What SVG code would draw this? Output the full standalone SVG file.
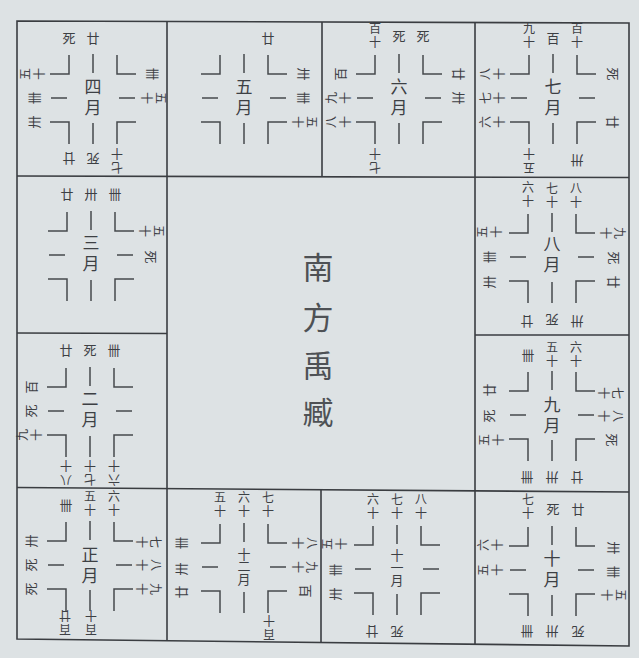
<svg xmlns="http://www.w3.org/2000/svg" width="639" height="658" viewBox="0 0 639 658">
<style>
.g{stroke:#3a3d41;stroke-width:1.6;fill:none}
.x{stroke:#46494c;stroke-width:1.5;fill:none}
text{font-family:'Noto Sans CJK SC','Noto Sans CJK TC',sans-serif;fill:#3d4044;text-anchor:middle;dominant-baseline:central}
.s{font-size:13px}
.v{font-size:12px;writing-mode:vertical-rl;letter-spacing:1.5px}
.mv{font-size:17px;writing-mode:vertical-rl;letter-spacing:4px}
.m3v{font-size:13px;writing-mode:vertical-rl;letter-spacing:-0.5px}
.t{font-size:31px;fill:#4e5155}
</style>
<defs>
<g id="cross" class="x">
<path d="M-43,-24H-24V-43M43,-24H24V-43M-43,24H-24V46M43,24H24V46M-42,0H-26M26,0H42M0,-44V-25M0,25V46"/>
</g>
</defs>
<rect width="639" height="658" fill="#dde2e4"/>
<g id="grid" class="g">
<path d="M17,21L629,23L629,646L17,639Z"/>
<path d="M17,176L629,177.5M17,487.5L629,492M17,333L167,333.5M475,335L629,335"/>
<path d="M167,21.5L167,640.5M475,22.5L475,644M322,22L322,176.8M321,489.7L321,642.5"/>
</g>
<g id="center">
<text class="t" x="318" y="265">南</text>
<text class="t" x="318" y="315">方</text>
<text class="t" x="318" y="363">禹</text>
<text class="t" x="318" y="410">臧</text>
</g>
<g id="m4" transform="translate(93,98)">
<use href="#cross"/>
<text class="mv" y="1">四月</text>
<text class="s" transform="translate(-24,-61)">死</text>
<text class="s" transform="translate(0,-61)">廿</text>
<text class="v" transform="translate(-60,-24) rotate(-90)">五十</text>
<text class="s" transform="translate(-60,0) rotate(-90)">卌</text>
<text class="s" transform="translate(-60,24) rotate(-90)">卅</text>
<text class="s" transform="translate(60,-24) rotate(90)">卌</text>
<text class="v" transform="translate(60,0) rotate(90)">五十</text>
<text class="s" transform="translate(-24,61) rotate(180)">廿</text>
<text class="s" transform="translate(0,61) rotate(180)">死</text>
<text class="v" transform="translate(24,62) rotate(180)">七十</text>
</g>
<g id="m5" transform="translate(244,98)">
<use href="#cross"/>
<text class="mv" y="1">五月</text>
<text class="s" transform="translate(24,-61)">廿</text>
<text class="s" transform="translate(60,-24) rotate(90)">卅</text>
<text class="s" transform="translate(60,0) rotate(90)">卌</text>
<text class="v" transform="translate(60,24) rotate(90)">五十</text>
</g>
<g id="m6" transform="translate(399,98)">
<use href="#cross"/>
<text class="mv" y="1">六月</text>
<text class="v" transform="translate(-24,-62)">百十</text>
<text class="s" transform="translate(0,-63)">死</text>
<text class="s" transform="translate(24,-63)">死</text>
<text class="s" transform="translate(-60,-24) rotate(-90)">百</text>
<text class="v" transform="translate(-60,0) rotate(-90)">九十</text>
<text class="v" transform="translate(-60,24) rotate(-90)">八十</text>
<text class="s" transform="translate(60,-24) rotate(90)">廿</text>
<text class="s" transform="translate(60,0) rotate(90)">卅</text>
<text class="v" transform="translate(-24,62) rotate(180)">七十</text>
</g>
<g id="m7" transform="translate(553,98)">
<use href="#cross"/>
<text class="mv" y="1">七月</text>
<text class="v" transform="translate(-24,-62)">九十</text>
<text class="s" transform="translate(0,-61)">百</text>
<text class="v" transform="translate(24,-62)">百十</text>
<text class="v" transform="translate(-60,-24) rotate(-90)">八十</text>
<text class="v" transform="translate(-60,0) rotate(-90)">七十</text>
<text class="v" transform="translate(-60,24) rotate(-90)">六十</text>
<text class="s" transform="translate(60,-24) rotate(90)">死</text>
<text class="s" transform="translate(60,24) rotate(90)">廿</text>
<text class="v" transform="translate(-24,62) rotate(180)">五十</text>
<text class="s" transform="translate(24,63) rotate(180)">卅</text>
</g>
<g id="m3" transform="translate(91,255)">
<use href="#cross"/>
<text class="mv" y="0">三月</text>
<text class="s" transform="translate(-24,-62)">廿</text>
<text class="s" transform="translate(0,-62)">卅</text>
<text class="s" transform="translate(24,-62)">卌</text>
<text class="v" transform="translate(60,-24) rotate(90)">五十</text>
<text class="s" transform="translate(60,2) rotate(90)">死</text>
</g>
<g id="m2" transform="translate(90,411)">
<use href="#cross"/>
<text class="mv" y="0">二月</text>
<text class="s" transform="translate(-24,-62)">廿</text>
<text class="s" transform="translate(0,-62)">死</text>
<text class="s" transform="translate(24,-62)">卌</text>
<text class="s" transform="translate(-60,-24) rotate(-90)">百</text>
<text class="s" transform="translate(-60,0) rotate(-90)">死</text>
<text class="v" transform="translate(-60,24) rotate(-90)">九十</text>
<text class="v" transform="translate(-24,61) rotate(180)">八十</text>
<text class="v" transform="translate(0,61) rotate(180)">七十</text>
<text class="v" transform="translate(24,61) rotate(180)">六十</text>
</g>
<g id="m1" transform="translate(90,565)">
<use href="#cross"/>
<text class="mv" y="2">正月</text>
<text class="s" transform="translate(-24,-61)">卌</text>
<text class="v" transform="translate(0,-61)">五十</text>
<text class="v" transform="translate(24,-61)">六十</text>
<text class="s" transform="translate(-60,-24) rotate(-90)">卅</text>
<text class="s" transform="translate(-60,0) rotate(-90)">死</text>
<text class="s" transform="translate(-60,24) rotate(-90)">死</text>
<text class="v" transform="translate(58,-23) rotate(90)">七十</text>
<text class="v" transform="translate(58,0) rotate(90)">八十</text>
<text class="v" transform="translate(58,24) rotate(90)">九十</text>
<text class="v" transform="translate(-25,57) rotate(180)">百廿</text>
<text class="v" transform="translate(1,57) rotate(180)">百十</text>
</g>
<g id="m12" transform="translate(244,567)">
<use href="#cross"/>
<text class="m3v" y="-1">十二月</text>
<text class="v" transform="translate(-24,-62)">五十</text>
<text class="v" transform="translate(0,-62)">六十</text>
<text class="v" transform="translate(24,-62)">七十</text>
<text class="s" transform="translate(-64,-24) rotate(-90)">卌</text>
<text class="s" transform="translate(-64,2) rotate(-90)">卅</text>
<text class="s" transform="translate(-64,25) rotate(-90)">廿</text>
<text class="v" transform="translate(60,-24) rotate(90)">八十</text>
<text class="v" transform="translate(60,0) rotate(90)">九十</text>
<text class="s" transform="translate(62,24) rotate(90)">百</text>
<text class="v" transform="translate(25,60) rotate(180)">百十</text>
</g>
<g id="m11" transform="translate(397,569)">
<use href="#cross"/>
<text class="m3v" y="-2">十一月</text>
<text class="v" transform="translate(-24,-62)">六十</text>
<text class="v" transform="translate(0,-62)">七十</text>
<text class="v" transform="translate(24,-62)">八十</text>
<text class="v" transform="translate(-62,-25) rotate(-90)">五十</text>
<text class="s" transform="translate(-63,1) rotate(-90)">卌</text>
<text class="s" transform="translate(-63,25) rotate(-90)">卅</text>
<text class="s" transform="translate(-25,63) rotate(180)">廿</text>
<text class="s" transform="translate(0,63) rotate(180)">死</text>
</g>
<g id="m10" transform="translate(552,570)">
<use href="#cross"/>
<text class="mv" y="1">十月</text>
<text class="v" transform="translate(-24,-63)">七十</text>
<text class="s" transform="translate(1,-62)">死</text>
<text class="s" transform="translate(26,-62)">廿</text>
<text class="v" transform="translate(-61,-25) rotate(-90)">六十</text>
<text class="v" transform="translate(-61,0) rotate(-90)">五十</text>
<text class="s" transform="translate(62,-22) rotate(90)">卅</text>
<text class="s" transform="translate(62,2) rotate(90)">卌</text>
<text class="v" transform="translate(61,25) rotate(90)">五十</text>
<text class="s" transform="translate(-25,62) rotate(180)">卌</text>
<text class="s" transform="translate(0,62) rotate(180)">卅</text>
<text class="s" transform="translate(26,62) rotate(180)">死</text>
</g>
<g id="m8" transform="translate(552,257)">
<use href="#cross"/>
<text class="mv" y="-1">八月</text>
<text class="v" transform="translate(-24,-62)">六十</text>
<text class="v" transform="translate(0,-61)">七十</text>
<text class="v" transform="translate(24,-61)">八十</text>
<text class="v" transform="translate(-62,-25) rotate(-90)">五十</text>
<text class="s" transform="translate(-64,0) rotate(-90)">卌</text>
<text class="s" transform="translate(-64,25) rotate(-90)">卅</text>
<text class="v" transform="translate(60,-24) rotate(90)">九十</text>
<text class="s" transform="translate(62,1) rotate(90)">死</text>
<text class="s" transform="translate(62,25) rotate(90)">廿</text>
<text class="s" transform="translate(-25,65) rotate(180)">廿</text>
<text class="s" transform="translate(0,63) rotate(180)">死</text>
<text class="s" transform="translate(25,65) rotate(180)">卅</text>
</g>
<g id="m9" transform="translate(552,415)">
<use href="#cross"/>
<text class="mv" y="2">九月</text>
<text class="s" transform="translate(-24,-61)">卌</text>
<text class="v" transform="translate(0,-60)">五十</text>
<text class="v" transform="translate(24,-60)">六十</text>
<text class="s" transform="translate(-64,-25) rotate(-90)">廿</text>
<text class="s" transform="translate(-64,1) rotate(-90)">死</text>
<text class="v" transform="translate(-60,25) rotate(-90)">五十</text>
<text class="v" transform="translate(58,-22) rotate(90)">七十</text>
<text class="v" transform="translate(58,1) rotate(90)">八十</text>
<text class="s" transform="translate(60,25) rotate(90)">死</text>
<text class="s" transform="translate(-25,63) rotate(180)">卌</text>
<text class="s" transform="translate(0,63) rotate(180)">卅</text>
<text class="s" transform="translate(25,63) rotate(180)">廿</text>
</g>
</svg>
